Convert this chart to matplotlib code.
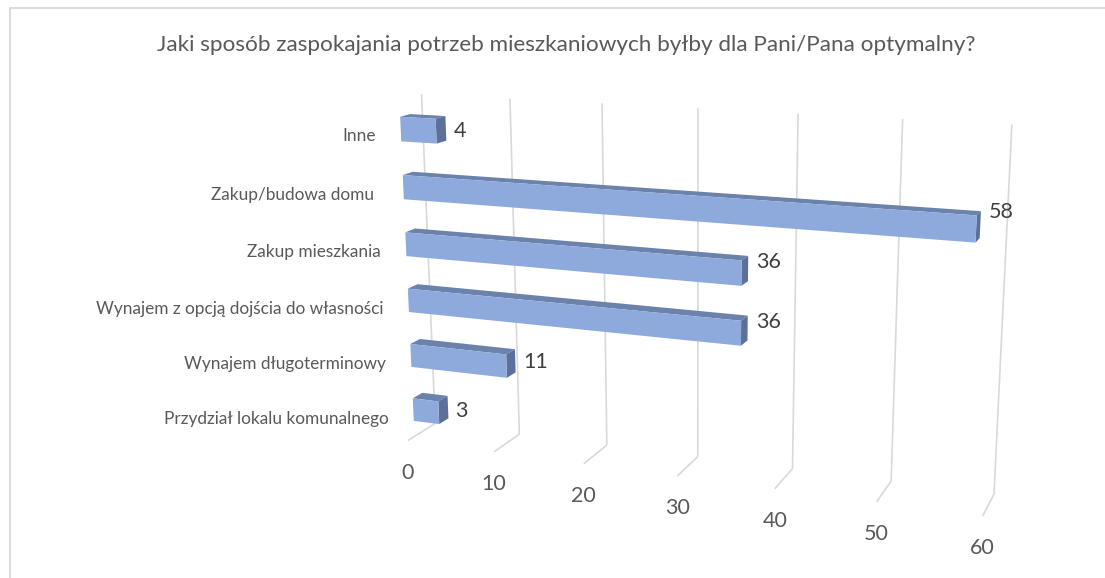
import numpy as np
import matplotlib.pyplot as plt
from matplotlib.patches import Polygon

plt.rcParams['font.family'] = ['Lato', 'DejaVu Sans']

title = "Jaki sposób zaspokajania potrzeb mieszkaniowych byłby dla Pani/Pana optymalny?"
categories = ["Przydział lokalu komunalnego", "Wynajem długoterminowy",
              "Wynajem z opcją dojścia do własności", "Zakup mieszkania",
              "Zakup/budowa domu ", "Inne"]
values = [3, 11, 36, 36, 58, 4]
ticks = [0, 10, 20, 30, 40, 50, 60]

VMAX = 60
W, H = 1105, 578

# 3D frame: (value, height, depth) with depth 0 at the back wall and 1 at the floor front
frame_world = np.array([[0, 1, 0], [30, 1, 0], [60, 1, 0],
                        [0, 0, 0], [30, 0, 0], [60, 0, 0],
                        [0, 0, 1], [30, 0, 1], [60, 0, 1]], dtype=float)
frame_px = np.array([[421.7, 94], [697.7, 108], [1012, 125],
                     [435, 425], [698, 455], [994, 494],
                     [408, 440], [677, 476], [982.7, 516.7]])


def fit_camera(world, px):
    rows, rhs = [], []
    for (X, Y, Z), (u, v) in zip(world, px):
        X = X / VMAX
        rows.append([X, Y, Z, 1, 0, 0, 0, 0, -u * X, -u * Y, -u * Z])
        rhs.append(u)
        rows.append([0, 0, 0, 0, X, Y, Z, 1, -v * X, -v * Y, -v * Z])
        rhs.append(v)
    p = np.linalg.lstsq(np.array(rows), np.array(rhs), rcond=None)[0]
    return np.append(p, 1).reshape(3, 4)


P = fit_camera(frame_world, frame_px)


def proj(v, h, d):
    w = P @ np.array([v / VMAX, h, d, 1.0])
    return w[0] / w[2], w[1] / w[2]


fig = plt.figure(figsize=(W / 100, H / 100), dpi=100)
ax = fig.add_axes([0, 0, 1, 1])
ax.set_xlim(0, W)
ax.set_ylim(H, 0)
ax.axis('off')

# chart border
ax.plot([9.5, 9.5, W + 5], [H + 5, 7.5, 7.5], color='#D9D9D9', lw=1.3)

grid_kw = dict(color='#D9D9D9', lw=1.2, solid_capstyle='butt', zorder=1)
for t in ticks:
    x0, y0 = proj(t, 0, 0)
    x1, y1 = proj(t, 1, 0)
    x2, y2 = proj(t, 0, 1)
    ax.plot([x0, x1], [y0, y1], **grid_kw)
    ax.plot([x0, x2], [y0, y2], **grid_kw)
    ax.text(x2, y2 + 32, str(t), ha='center', va='center',
            fontsize=15.5, color='#595959')

n = len(categories)
bar_frac = 0.42          # share of a category slot taken by the bar
d0, d1 = 0.42, 0.76      # bar depth range
front_c, top_c, side_c = '#8EA9DB', '#6B82AC', '#5D7099'

for i, (cat, val) in enumerate(zip(categories, values)):
    hc = (i + 0.5) / n
    h0, h1 = hc - bar_frac / 2 / n, hc + bar_frac / 2 / n
    front = [proj(0, h0, d1), proj(val, h0, d1), proj(val, h1, d1), proj(0, h1, d1)]
    top = [proj(0, h1, d1), proj(val, h1, d1), proj(val, h1, d0), proj(0, h1, d0)]
    side = [proj(val, h0, d1), proj(val, h0, d0), proj(val, h1, d0), proj(val, h1, d1)]
    ax.add_patch(Polygon(top, closed=True, fc=top_c, ec='none', zorder=3))
    ax.add_patch(Polygon(side, closed=True, fc=side_c, ec='none', zorder=3))
    ax.add_patch(Polygon(front, closed=True, fc=front_c, ec='none', zorder=3))

    # value label just past the end of the bar
    lx, ly = proj(val, h1, d0)
    ax.text(lx + 8, ly + 16 * (1 - val / VMAX), str(val), ha='left', va='center',
            fontsize=15.5, color='#404040', zorder=4)

    # category label to the left of the front edge
    cx, cy = proj(0, hc, 1)
    ax.text(cx - 18, cy + 5, cat, ha='right', va='center',
            fontsize=12.4, color='#595959')

ax.text(566, 45, title, ha='center', va='center', fontsize=16.2, color='#595959')

fig.savefig('out.png', dpi=100)
